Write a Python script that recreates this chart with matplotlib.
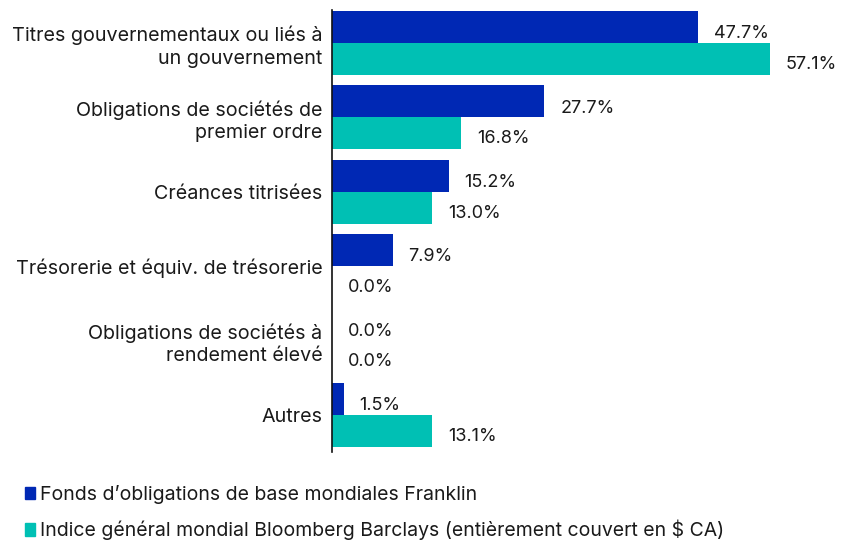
import matplotlib.pyplot as plt
from matplotlib.patches import Patch

plt.rcParams['font.family'] = ['Inter', 'DejaVu Sans']

categories = [
    "Titres gouvernementaux ou liés à\nun gouvernement",
    "Obligations de sociétés de\npremier ordre",
    "Créances titrisées",
    "Trésorerie et équiv. de trésorerie",
    "Obligations de sociétés à\nrendement élevé",
    "Autres",
]
fund = [47.7, 27.7, 15.2, 7.9, 0.0, 1.5]
index = [57.1, 16.8, 13.0, 0.0, 0.0, 13.1]
series_names = [
    "Fonds d’obligations de base mondiales Franklin",
    "Indice général mondial Bloomberg Barclays (entièrement couvert en $ CA)",
]

blue = "#0028B4"
teal = "#00C0B4"
txt = "#1a1a1a"

fig = plt.figure(figsize=(8.53, 5.42), dpi=100)
ax = fig.add_axes([332 / 853, 1 - 452 / 542, (836 - 332) / 853, (452 - 10) / 542])

h = 0.43
ys = list(range(len(categories)))
ax.barh([y - h / 2 for y in ys], fund, height=h, color=blue)
ax.barh([y + h / 2 for y in ys], index, height=h, color=teal)

for y, v in zip(ys, fund):
    ax.annotate(f"{v:.1f}%", (v, y - h / 2), xytext=(11.5, -5), textcoords="offset points",
                ha="left", va="center", fontsize=13, color=txt)
for y, v in zip(ys, index):
    ax.annotate(f"{v:.1f}%", (v, y + h / 2), xytext=(11.5, -4), textcoords="offset points",
                ha="left", va="center", fontsize=13, color=txt)

ax.set_xlim(0, 65.7)
ax.set_ylim(5.5, -0.44)
ax.set_yticks(ys)
ax.set_yticklabels(categories, fontsize=14.2, color=txt, ha="right", linespacing=1.3)
ax.tick_params(axis="y", length=0, pad=7)
ax.set_xticks([])
for s in ["top", "right", "bottom"]:
    ax.spines[s].set_visible(False)
ax.spines["left"].set_color("#111111")
ax.spines["left"].set_linewidth(1.2)

handles = [Patch(color=blue, label=series_names[0]), Patch(color=teal, label=series_names[1])]
fig.legend(handles=handles, loc="upper left", bbox_to_anchor=(25 / 853, 1 - 485 / 542),
           frameon=False, fontsize=14,
           handlelength=0.52, handleheight=0.62,
           handletextpad=0.27, labelspacing=0.8, borderaxespad=0, borderpad=0,
           labelcolor=txt)

fig.savefig("out.png", dpi=100)
